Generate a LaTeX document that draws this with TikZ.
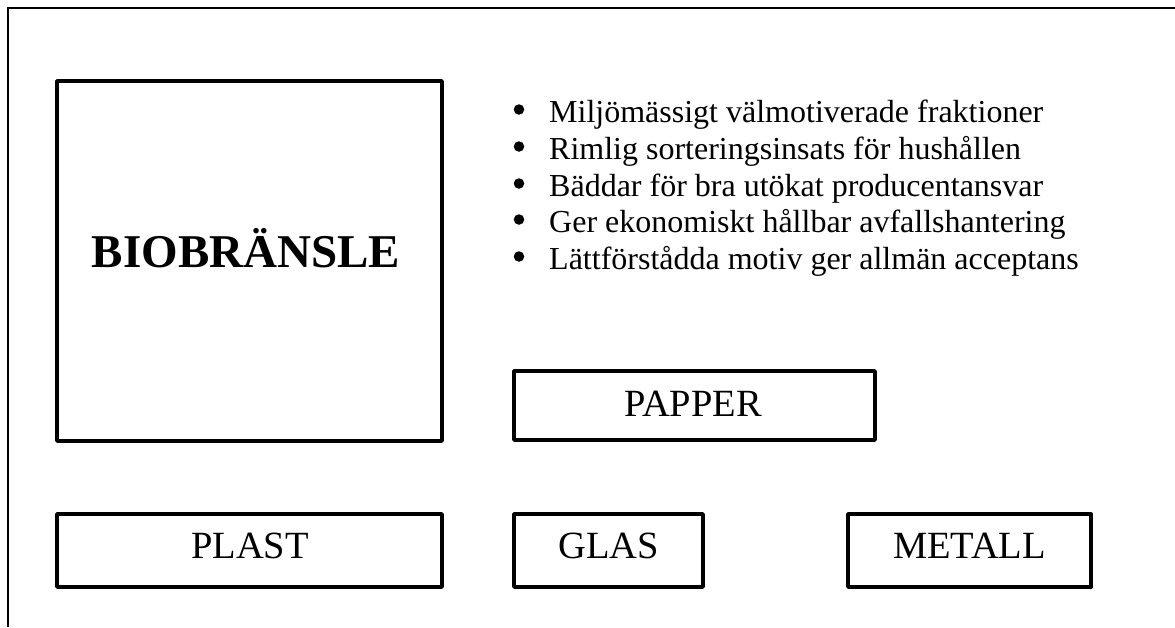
\documentclass[tikz,border=0pt]{standalone}
\usepackage{fontspec}
\setmainfont{Liberation Serif}
\begin{document}
\begin{tikzpicture}[x=1pt,y=-1pt,
  box/.style={draw,line width=3.8pt,line join=round},
  frame/.style={line width=2pt},
  lbl/.style={anchor=base,inner sep=0pt,font=\fontsize{38.5}{40}\selectfont},
  big/.style={anchor=base,inner sep=0pt,font=\fontsize{47}{50}\selectfont\bfseries},
  item/.style={anchor=base west,inner sep=0pt,font=\fontsize{32}{36}\selectfont},
  dot/.style={circle,fill,inner sep=0pt,minimum size=10.5pt}]
\useasboundingbox (0,0) rectangle (1175,627);
\draw[frame] (8,627) -- (8,8) -- (1175,8);
% boxes
\draw[box] (57,81) rectangle (442,441);
\node[big] (bio) at (246,267) {BIOBRÄNSLE};
\draw[box] (514,371) rectangle (875,440);
\node[lbl] (papper) at (693,416) {PAPPER};
\draw[box] (57,514) rectangle (442,587);
\node[lbl] (plast) at (250,558) {PLAST};
\draw[box] (514,514) rectangle (703,587);
\node[lbl] (glas) at (608.5,558) {GLAS};
\draw[box] (848,514) rectangle (1091,587);
\node[lbl] (metall) at (969.5,558) {METALL};
% bullet list
\foreach \y/\t [count=\i] in {122/Miljömässigt välmotiverade fraktioner,
  159/Rimlig sorteringsinsats för hushållen,
  196/Bäddar för bra utökat producentansvar,
  232/Ger ekonomiskt hållbar avfallshantering,
  269/Lättförstådda motiv ger allmän acceptans}{
  \node[dot] (b\i) at (519,\y-12.5) {};
  \node[item] (t\i) at (549,\y) {\t};
}
\end{tikzpicture}
\end{document}
